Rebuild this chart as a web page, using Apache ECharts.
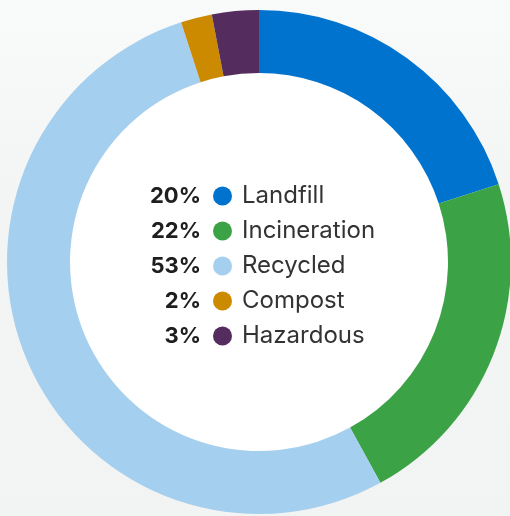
<!DOCTYPE html>
<html>
<head>
<meta charset="utf-8">
<script src="https://cdn.jsdelivr.net/npm/echarts@6/dist/echarts.min.js"></script>
<style>
  html, body { margin: 0; padding: 0; }
  #chart { width: 510px; height: 516px; }
</style>
</head>
<body>
<div id="chart"></div>
<script>
// waste streams, clockwise from 12 o'clock
const categories = ['Landfill', 'Incineration', 'Recycled', 'Compost', 'Hazardous']
const shares = [20, 22, 53, 2, 3]
const colors = ['#0073cf', '#3ba345', '#a5cfee', '#cc8a00', '#542d5e']

const chart = echarts.init(document.getElementById('chart'))

const rowMid = 196
const rowStep = 35

// bold percentages sit left of the legend markers
const pctLabels = shares.map((v, i) => ({
  type: 'text',
  x: 201,
  y: rowMid + i * rowStep,
  z: 10,
  style: {
    text: v + '%',
    font: 'bold 22px Inter',
    fill: '#1e1e1e',
    align: 'right',
    verticalAlign: 'middle'
  }
}))

const option = {
  backgroundColor: {
    type: 'linear', x: 0, y: 0, x2: 0, y2: 1,
    colorStops: [
      { offset: 0, color: '#f9fafa' },
      { offset: 0.4, color: '#f3f4f4' },
      { offset: 1, color: '#f2f3f3' }
    ]
  },
  animation: false,
  legend: {
    orient: 'vertical',
    left: 213,
    top: rowMid - 12,
    padding: 0,
    icon: 'circle',
    itemWidth: 19,
    itemHeight: 19,
    itemGap: 11,
    selectedMode: false,
    textStyle: {
      fontFamily: 'Inter',
      fontSize: 24,
      color: '#333',
      padding: [0, 0, 0, 5]
    },
    data: categories
  },
  graphic: pctLabels,
  series: [
    {
      // white hole in the middle of the ring
      type: 'pie',
      center: [259, 262],
      radius: [0, 189],
      silent: true,
      label: { show: false },
      labelLine: { show: false },
      itemStyle: { color: '#fff' },
      data: [{ name: 'hole', value: 1 }]
    },
    {
      type: 'pie',
      center: [259, 262],
      radius: [189, 252],
      startAngle: 90,
      clockwise: true,
      label: { show: false },
      labelLine: { show: false },
      emphasis: { disabled: true },
      itemStyle: { borderWidth: 0 },
      data: categories.map((name, i) => ({
        name,
        value: shares[i],
        itemStyle: { color: colors[i] }
      }))
    }
  ]
}

chart.setOption(option)
</script>
</body>
</html>
